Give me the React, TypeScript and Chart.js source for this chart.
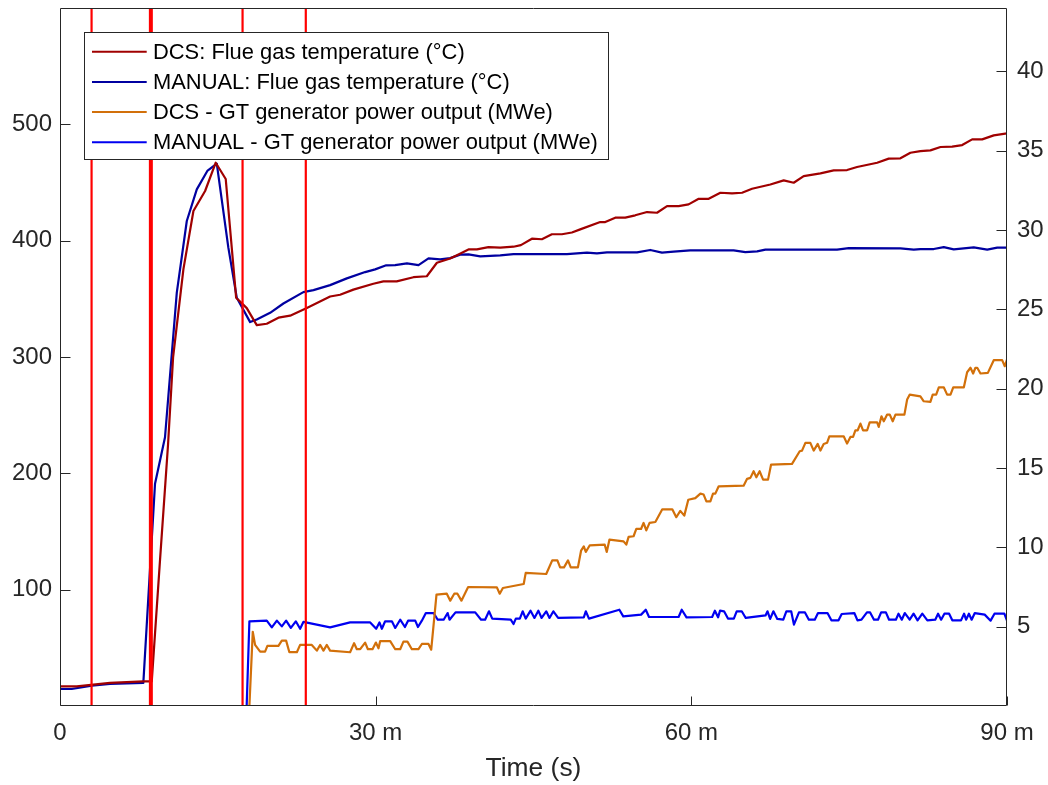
import React, { useEffect, useRef } from 'react';
import { Chart, registerables } from 'chart.js';

Chart.register(...registerables);

const FONT = "'Liberation Sans', Arial, Helvetica, sans-serif";
const AXIS_COLOR = '#262626';

// ---- Axis ticks ----
const xTickValues = [0, 30, 60, 90];
const xTickLabels = ['0', '30 m', '60 m', '90 m'];
const leftTickValues = [100, 200, 300, 400, 500];
const rightTickValues = [5, 10, 15, 20, 25, 30, 35, 40];

// ---- Event markers (minutes) ----
const eventTimes = [3.0, 8.55, 8.72, 17.35, 23.36];

// ---- Series labels / colours ----
const seriesLabels = [
  'DCS: Flue gas temperature (°C)',
  'MANUAL: Flue gas temperature (°C)',
  'DCS - GT generator power output (MWe)',
  'MANUAL - GT generator power output (MWe)',
];
const seriesColors = ['#A00000', '#0000A0', '#D2700A', '#0000F0'];

// ---- DCS flue gas temperature (°C) ----
const dcsFlueTime = [0, 1.59, 3.17, 4.75, 7.92, 8.72, 9.51, 10.27, 10.75, 11.73, 12.68, 13.79, 14.8, 15.75, 16.74, 17.75, 18.7, 19.65, 20.76, 21.87, 23.46, 25.67, 26.62, 27.88, 29.78, 30.73, 32.0, 33.59, 34.86, 35.82, 37.08, 37.87, 38.82, 39.62, 40.72, 41.84, 43.1, 43.8, 44.85, 45.8, 46.75, 47.7, 48.65, 49.44, 51.34, 51.82, 52.77, 53.72, 54.67, 55.79, 56.74, 57.69, 58.79, 59.74, 60.7, 61.65, 62.76, 63.87, 64.82, 65.77, 67.51, 68.78, 69.73, 70.68, 72.27, 73.53, 74.8, 75.75, 77.66, 78.76, 79.87, 80.82, 81.77, 82.72, 83.68, 84.79, 85.74, 86.69, 87.64, 88.74, 90];
const dcsFlueTemp = [16.9, 16.9, 18.3, 19.8, 21.2, 21.2, 126, 225, 300, 375.5, 425.5, 442.7, 467, 453, 351, 342, 327.4, 328.6, 333.8, 335.5, 342.2, 352, 353.5, 357.9, 363, 365, 365, 368.6, 369.4, 381, 384.7, 388.2, 392.5, 392.5, 394.5, 394, 394.8, 396.2, 401.7, 401.2, 405.5, 405.5, 407, 409.7, 416, 416, 419.8, 419.8, 421.8, 424.6, 424, 429.7, 429.7, 431.2, 436, 436, 441.2, 440.6, 441.2, 444.6, 448.3, 451.8, 449.8, 455.5, 457.8, 460.4, 460.7, 463.3, 467, 470.5, 470.8, 475.6, 477, 477.6, 480.5, 480.8, 482.2, 487.1, 487.1, 490.5, 492.3];

// ---- MANUAL flue gas temperature (°C) ----
const manFlueTime = [0, 1.11, 3.02, 4.75, 7.92, 9.03, 9.98, 11.1, 12.05, 13.0, 14.0, 14.9, 16.0, 16.8, 18.07, 18.7, 19.97, 21.23, 23.13, 24.09, 25.67, 27.26, 29.0, 29.95, 31.0, 31.85, 32.97, 34.07, 35.02, 36.13, 37.08, 38.03, 38.82, 39.94, 41.84, 43.1, 48.18, 50.08, 51.03, 51.98, 54.84, 56.1, 57.21, 58.32, 59.9, 64.02, 65.13, 66.25, 67.04, 73.85, 74.96, 79.87, 81.14, 81.77, 83.04, 83.99, 84.94, 86.84, 88.12, 89.07, 90];
const manFlueTemp = [14.6, 14.6, 17.5, 18.9, 19.8, 191, 231, 355.3, 416.9, 444.1, 459.9, 466.2, 394, 351, 330, 332.3, 338, 346, 355.8, 357.5, 361.8, 367.6, 373, 375.3, 378.8, 379, 380.5, 379, 384.8, 383.9, 385, 388, 388.2, 386.5, 387.4, 388.5, 388.5, 389.7, 389, 390, 390, 392, 389.7, 390.5, 391.7, 391.7, 390.2, 390.8, 392.3, 392.3, 393.6, 393.4, 392.3, 392.8, 392.8, 394.5, 392.5, 394.2, 392.3, 394, 394];

// ---- DCS GT generator power output (MWe) ----
const dcsPowerTime = [18.0, 18.32, 18.54, 19.02, 19.49, 19.71, 20.76, 21.08, 21.49, 21.8, 22.51, 22.82, 23.93, 24.41, 24.72, 25.04, 25.36, 25.67, 27.57, 27.95, 28.21, 28.53, 29.0, 29.26, 29.7, 30.02, 30.27, 30.43, 31.38, 31.86, 32.33, 32.64, 33.02, 33.44, 34.07, 34.39, 35.02, 35.28, 35.78, 36.76, 37.09, 37.47, 37.77, 38.15, 38.79, 41.52, 41.79, 42.09, 44.07, 44.26, 46.21, 46.78, 47.27, 47.53, 47.9, 48.28, 48.54, 49.22, 49.52, 49.78, 49.97, 50.35, 51.77, 51.96, 52.22, 53.56, 53.82, 54.04, 54.51, 54.77, 55.22, 55.46, 55.72, 56.03, 56.58, 57.24, 58.19, 58.57, 58.95, 59.33, 59.71, 60.38, 60.86, 61.17, 61.43, 61.81, 62.06, 62.28, 62.6, 64.97, 65.3, 65.61, 65.92, 66.18, 66.49, 66.82, 67.29, 67.58, 69.57, 70.3, 70.52, 70.84, 71.31, 71.63, 72.01, 72.27, 72.58, 72.9, 73.12, 74.48, 74.8, 75.12, 75.37, 75.59, 75.81, 76.07, 76.32, 76.71, 76.95, 77.66, 77.81, 78.07, 78.29, 78.61, 78.86, 79.14, 79.4, 80.25, 80.51, 80.76, 81.77, 82.09, 82.72, 82.94, 83.27, 83.52, 83.99, 84.31, 84.63, 84.89, 85.9, 86.21, 86.53, 86.78, 87.0, 87.17, 87.48, 88.18, 88.74, 89.54, 89.79, 90];
const dcsPower = [0, 4.68, 3.85, 3.43, 3.43, 3.79, 3.79, 4.12, 4.12, 3.39, 3.39, 3.85, 3.85, 3.49, 3.85, 3.49, 3.85, 3.49, 3.39, 3.96, 3.58, 3.58, 4.0, 3.58, 3.58, 4.0, 3.64, 4.09, 4.09, 3.58, 3.58, 4.06, 4.06, 3.58, 3.58, 3.91, 3.91, 3.55, 7.02, 7.08, 6.64, 7.08, 7.08, 6.64, 7.5, 7.48, 7.08, 7.44, 7.69, 8.39, 8.32, 9.18, 9.18, 8.74, 8.74, 9.18, 8.74, 8.74, 9.79, 10.06, 9.71, 10.13, 10.17, 9.71, 10.49, 10.38, 10.17, 10.66, 10.7, 11.16, 11.16, 11.54, 11.07, 11.54, 11.6, 12.4, 12.4, 11.9, 12.3, 12.0, 13.0, 13.1, 13.39, 13.33, 12.9, 12.9, 13.39, 13.39, 13.85, 13.89, 14.32, 14.38, 14.8, 14.42, 14.8, 14.27, 14.27, 15.22, 15.26, 16.06, 16.1, 16.59, 16.59, 16.1, 16.52, 16.1, 16.52, 16.59, 17.0, 17.0, 16.54, 16.96, 16.96, 17.38, 17.38, 17.8, 17.38, 17.38, 17.88, 17.88, 17.59, 18.26, 17.95, 18.37, 18.37, 17.95, 18.37, 18.37, 19.32, 19.63, 19.52, 19.21, 19.17, 19.63, 19.63, 20.09, 20.09, 19.63, 19.63, 20.09, 20.09, 21.04, 21.32, 20.96, 21.32, 21.32, 20.96, 21.0, 21.8, 21.8, 21.42, 21.84];

// ---- MANUAL GT generator power output (MWe) ----
const manPowerTime = [17.74, 18.0, 19.65, 20.13, 20.61, 21.08, 21.49, 21.94, 22.41, 22.82, 23.13, 25.67, 27.57, 29.48, 30.05, 30.36, 30.59, 30.9, 31.54, 31.86, 32.33, 32.78, 33.08, 33.76, 34.02, 34.39, 34.77, 35.51, 35.9, 36.46, 36.84, 37.02, 37.59, 39.46, 40.02, 40.4, 40.77, 41.08, 42.84, 43.1, 43.32, 43.7, 43.97, 44.26, 44.72, 45.09, 45.46, 45.77, 46.21, 46.52, 46.89, 47.34, 49.78, 49.97, 50.27, 53.16, 53.53, 55.23, 55.67, 55.98, 58.79, 59.09, 59.54, 61.98, 62.24, 62.54, 62.73, 63.11, 63.48, 64.04, 64.31, 64.79, 65.17, 67.05, 67.24, 67.49, 67.8, 68.17, 68.74, 69.03, 69.49, 69.75, 70.23, 70.8, 71.17, 71.73, 72.04, 72.94, 73.31, 73.99, 74.29, 75.49, 75.79, 76.17, 76.69, 76.99, 77.36, 77.74, 78.04, 78.49, 78.79, 79.44, 79.69, 80.0, 80.29, 80.75, 81.12, 81.5, 81.95, 82.43, 83.18, 83.45, 83.74, 84.05, 84.5, 84.8, 85.63, 85.92, 86.11, 86.38, 86.64, 86.94, 87.88, 88.44, 88.81, 89.75, 90];
const manPower = [0, 5.34, 5.38, 4.96, 5.38, 5.02, 5.38, 4.92, 5.34, 4.87, 5.3, 4.96, 5.27, 5.27, 4.87, 5.27, 4.87, 5.34, 5.34, 4.92, 5.44, 4.98, 5.38, 5.38, 4.98, 5.38, 5.86, 5.86, 5.44, 5.44, 5.86, 5.44, 5.9, 5.9, 5.44, 5.44, 5.97, 5.51, 5.44, 5.17, 5.51, 5.51, 5.97, 5.51, 6.01, 5.55, 6.01, 5.55, 5.97, 5.55, 5.97, 5.55, 5.59, 5.97, 5.51, 6.07, 5.65, 5.76, 6.07, 5.61, 5.61, 6.07, 5.59, 5.61, 6.01, 5.59, 6.01, 5.97, 5.51, 5.51, 5.97, 5.97, 5.55, 5.71, 5.97, 5.49, 5.97, 5.49, 5.44, 5.97, 5.97, 5.13, 5.9, 5.9, 5.44, 5.44, 5.86, 5.86, 5.4, 5.4, 5.8, 5.86, 5.4, 5.44, 5.9, 5.9, 5.44, 5.44, 5.9, 5.9, 5.44, 5.44, 5.82, 5.44, 5.86, 5.44, 5.82, 5.4, 5.82, 5.4, 5.44, 5.82, 5.44, 5.82, 5.82, 5.4, 5.4, 5.82, 5.44, 5.82, 5.44, 5.86, 5.76, 5.38, 5.82, 5.82, 5.38];

const toPoints = (xs: number[], ys: number[]) => xs.map((x, i) => ({ x, y: ys[i] }));

const framePlugin = {
  id: 'matlabFrame',
  afterDatasetsDraw(chart: any) {
    const { ctx, chartArea: a, scales } = chart;
    const L = Math.round(a.left) + 0.5;
    const R = Math.round(a.right) - 0.5;
    const T = Math.round(a.top) + 0.5;
    const B = Math.round(a.bottom) - 0.5;
    ctx.save();
    ctx.strokeStyle = AXIS_COLOR;
    ctx.lineWidth = 1;
    ctx.beginPath();
    ctx.rect(L, T, R - L, B - T);
    for (const v of leftTickValues) {
      const y = Math.round(scales.y.getPixelForValue(v)) + 0.5;
      ctx.moveTo(L, y);
      ctx.lineTo(L + 10, y);
    }
    for (const v of rightTickValues) {
      const y = Math.round(scales.y1.getPixelForValue(v)) + 0.5;
      ctx.moveTo(R, y);
      ctx.lineTo(R - 10, y);
    }
    for (const v of xTickValues) {
      const x = Math.round(scales.x.getPixelForValue(v)) + 0.5;
      ctx.moveTo(x, B);
      ctx.lineTo(x, B - 9);
    }
    ctx.stroke();
    ctx.restore();
  },
  afterDraw(chart: any) {
    const { ctx } = chart;
    const bx = 84.5, by = 32.5, bw = 524, bh = 127;
    ctx.save();
    ctx.fillStyle = '#ffffff';
    ctx.fillRect(bx, by, bw, bh);
    ctx.strokeStyle = AXIS_COLOR;
    ctx.lineWidth = 1;
    ctx.strokeRect(bx, by, bw, bh);
    ctx.font = `21.9px ${FONT}`;
    ctx.textBaseline = 'middle';
    ctx.textAlign = 'left';
    seriesLabels.forEach((label, i) => {
      const y = 51.7 + i * 30.2;
      ctx.strokeStyle = seriesColors[i];
      ctx.lineWidth = 2;
      ctx.beginPath();
      ctx.moveTo(92, y);
      ctx.lineTo(146.7, y);
      ctx.stroke();
      ctx.fillStyle = '#000000';
      ctx.fillText(label, 153, y + 1);
    });
    ctx.restore();
  },
};

const zeroPad = (s: any) => {
  s.paddingTop = 0;
  s.paddingBottom = 0;
  s.paddingLeft = 0;
  s.paddingRight = 0;
};

export default function App() {
  const canvasRef = useRef<HTMLCanvasElement | null>(null);

  useEffect(() => {
    const canvas = canvasRef.current;
    if (!canvas) return;

    const eventSets = eventTimes.map((t) => ({
      label: 'event',
      data: [{ x: t, y: 0 }, { x: t, y: 600 }],
      yAxisID: 'y',
      borderColor: '#FF0000',
      borderWidth: 2.2,
      pointRadius: 0,
      fill: false,
    }));

    const lineCommon = {
      pointRadius: 0,
      borderWidth: 2.2,
      fill: false,
      tension: 0,
      borderJoinStyle: 'round' as const,
      borderCapStyle: 'round' as const,
    };

    const chart = new Chart(canvas, {
      type: 'line',
      data: {
        datasets: [
          ...eventSets,
          { ...lineCommon, label: seriesLabels[0], data: toPoints(dcsFlueTime, dcsFlueTemp), borderColor: seriesColors[0], yAxisID: 'y' },
          { ...lineCommon, label: seriesLabels[1], data: toPoints(manFlueTime, manFlueTemp), borderColor: seriesColors[1], yAxisID: 'y' },
          { ...lineCommon, label: seriesLabels[2], data: toPoints(dcsPowerTime, dcsPower), borderColor: seriesColors[2], yAxisID: 'y1' },
          { ...lineCommon, label: seriesLabels[3], data: toPoints(manPowerTime, manPower), borderColor: seriesColors[3], yAxisID: 'y1' },
        ] as any,
      },
      options: {
        responsive: false,
        animation: false,
        devicePixelRatio: 1,
        events: [],
        layout: { padding: { top: 8, left: 0, right: 0, bottom: 0 } },
        plugins: {
          legend: { display: false },
          tooltip: { enabled: false },
        },
        scales: {
          x: {
            type: 'linear',
            position: 'bottom',
            min: 0,
            max: 90,
            afterBuildTicks: (s: any) => {
              s.ticks = xTickValues.map((v) => ({ value: v }));
            },
            ticks: {
              callback: (_v: any, i: number) => xTickLabels[i],
              font: { family: FONT, size: 24 },
              color: AXIS_COLOR,
              padding: 13,
              maxRotation: 0,
              autoSkip: false,
            },
            grid: { display: false, drawTicks: false },
            border: { display: false },
            title: {
              display: true,
              text: 'Time (s)',
              font: { family: FONT, size: 26.4 },
              color: AXIS_COLOR,
              padding: { top: 0, bottom: 0 },
            },
            afterFit: (s: any) => {
              s.height = 79;
              zeroPad(s);
            },
          },
          y: {
            type: 'linear',
            position: 'left',
            min: 0,
            max: 600,
            afterBuildTicks: (s: any) => {
              s.ticks = leftTickValues.map((v) => ({ value: v }));
            },
            ticks: {
              callback: (v: any) => String(v),
              font: { family: FONT, size: 24 },
              color: AXIS_COLOR,
              padding: 8,
            },
            grid: { display: false, drawTicks: false },
            border: { display: false },
            afterFit: (s: any) => {
              s.width = 60;
              zeroPad(s);
            },
          },
          y1: {
            type: 'linear',
            position: 'right',
            min: 0,
            max: 44,
            afterBuildTicks: (s: any) => {
              s.ticks = rightTickValues.map((v) => ({ value: v }));
            },
            ticks: {
              callback: (v: any) => String(v),
              font: { family: FONT, size: 24 },
              color: AXIS_COLOR,
              padding: 10,
            },
            grid: { display: false, drawTicks: false },
            border: { display: false },
            afterFit: (s: any) => {
              s.width = 41;
              zeroPad(s);
            },
          },
        },
      } as any,
      plugins: [framePlugin],
    });

    return () => {
      chart.destroy();
    };
  }, []);

  return (
    <div style={{ position: 'fixed', left: 0, top: 0, width: 1048, height: 785, background: '#ffffff' }}>
      <canvas ref={canvasRef} width={1048} height={785} style={{ display: 'block', width: 1048, height: 785 }} />
    </div>
  );
}
